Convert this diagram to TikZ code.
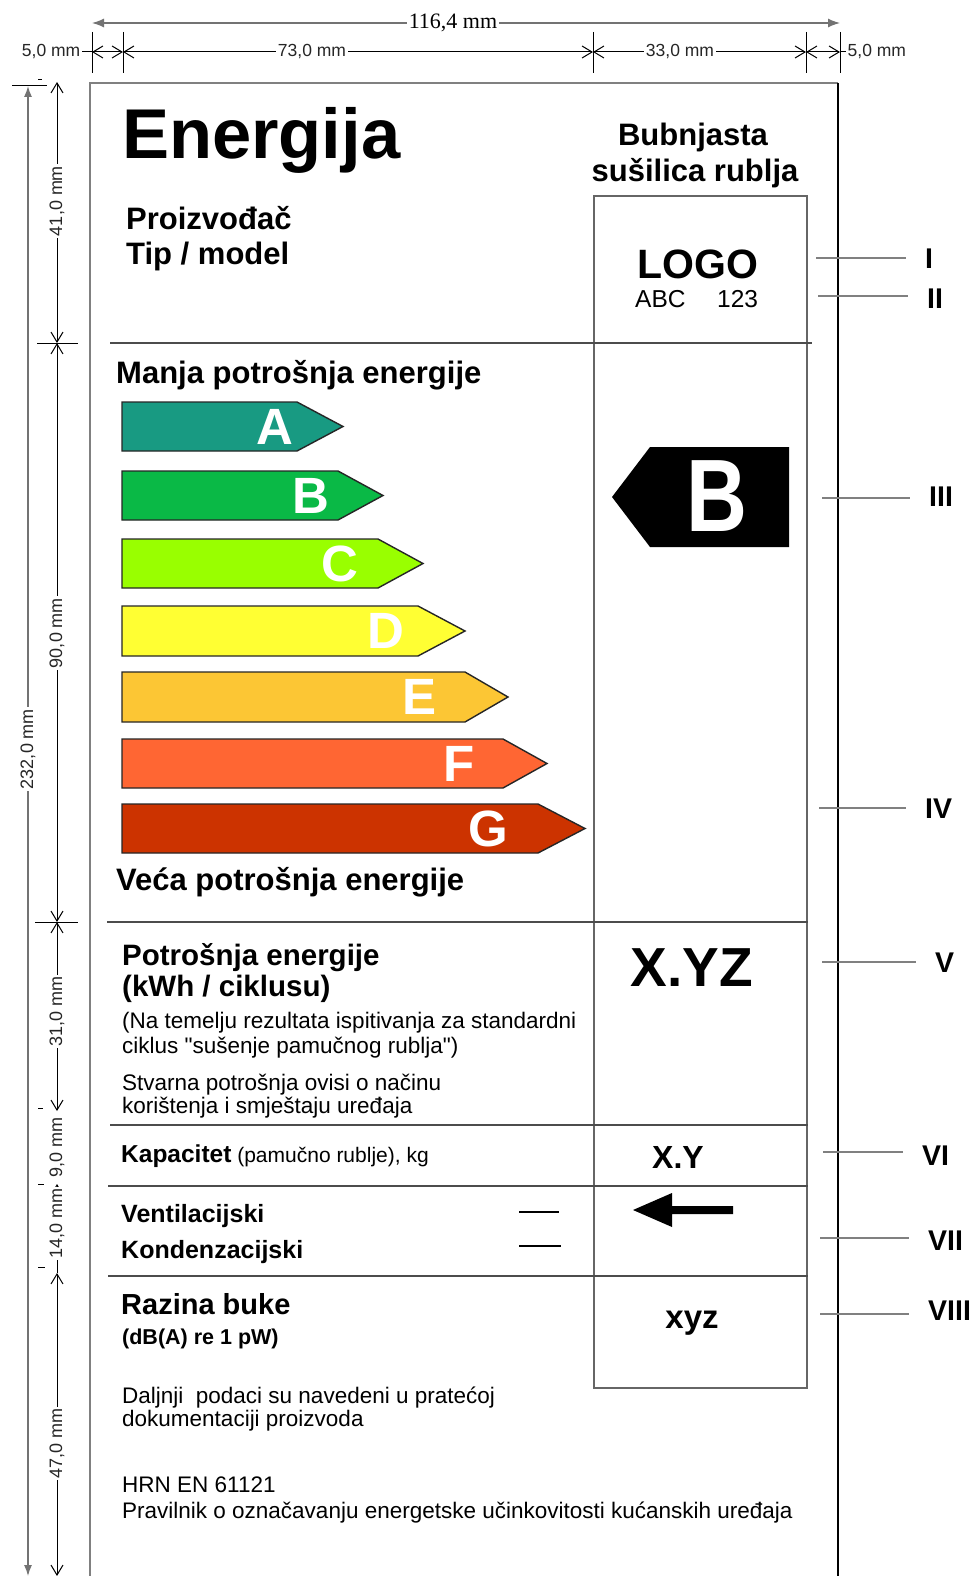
\documentclass[tikz,border=0pt]{standalone}
\usepackage{fontspec}
\setmainfont{Liberation Sans}
\newfontfamily\rawsans{Liberation Sans}
\newfontfamily\dimserif{Liberation Serif}
\usetikzlibrary{arrows.meta}
\newcommand\fsz[2]{\fontsize{#1}{#2}\selectfont}
\definecolor{clA}{RGB}{24,154,130}
\definecolor{clB}{RGB}{10,185,70}
\definecolor{clC}{RGB}{153,255,0}
\definecolor{clD}{RGB}{255,255,51}
\definecolor{clE}{RGB}{252,198,52}
\definecolor{clF}{RGB}{255,102,51}
\definecolor{clG}{RGB}{204,51,0}
\begin{document}
\begin{tikzpicture}[x=1pt,y=-1pt,
  framegray/.style={draw=black!50,line width=1.4pt},
  boxl/.style={draw=black!60,line width=1.1pt},
  rowl/.style={draw=black!70,line width=1.2pt},
  leader/.style={draw=black!50,line width=2.2pt,shorten >=19pt},
  roman/.style={font=\fsz{28.5}{29}\bfseries,anchor=base west,inner sep=0pt},
  dimline/.style={draw=black,line width=1pt},
  dimarr/.style={dimline,>={Straight Barb[length=10pt,width=12pt]},<->},
  dimtxt/.style={font=\fsz{17.5}{18},text=black!85,fill=white,inner sep=1.5pt},
  vdimtxt/.style={dimtxt,rotate=90,font=\fsz{18}{18}},
  tb/.style={anchor=base west,inner sep=0pt},
  tc/.style={anchor=base,inner sep=0pt},
  ebox/.style={draw=black!85,line width=1.4pt},
  letter/.style={text=white,font=\fsz{51}{51}\bfseries,inner sep=0pt,anchor=center}
]
\useasboundingbox (0,0) rectangle (974,1576);
\fill[white] (0,0) rectangle (974,1576);

% ---------- top dimensions ----------
\coordinate (t1) at (92,23);
\coordinate (t2) at (840,23);
\draw[draw=black!55,line width=1.3pt,{Latex[length=12pt,width=9pt]}-{Latex[length=12pt,width=9pt]}] (t1) -- (t2);
\node[font=\dimserif\fsz{22}{22},fill=white,inner sep=2pt] (d116) at (453,23) {116,4 mm};

\foreach \x in {92,123,593,806,840} \draw[dimline] (\x,32) -- (\x,73);
\coordinate (h0) at (92,52);
\coordinate (h1) at (123,52);
\coordinate (h2) at (593,52);
\coordinate (h3) at (806,52);
\coordinate (h4) at (840,52);
\draw[dimarr] (h0) -- (h1);
\draw[dimarr] (h1) -- (h2);
\draw[dimarr] (h2) -- (h3);
\draw[dimarr] (h3) -- (h4);
\node[dimtxt] (d73) at (312,52) {73,0 mm};
\node[dimtxt] (d33) at (680,52) {33,0 mm};
\node[dimtxt,anchor=east,fill=none] (d5l) at (82,52) {5,0 mm};
\node[dimtxt,anchor=west,fill=none] (d5r) at (846,52) {5,0 mm};
\draw[dimline] (d5l.east) -- (h0);
\draw[dimline] (h4) -- (d5r.west);

% ---------- left dimensions ----------
\coordinate (o1) at (28,86);
\coordinate (o2) at (28,1576);
\draw[draw=black!55,line width=1.3pt,{Latex[length=11pt,width=8pt]}-{Latex[length=11pt,width=8pt]}] (o1) -- (o2);
\draw[dimline] (12,86) -- (47,86);
\draw[dimline] (38,80) -- (42,80);
\node[vdimtxt] (d232) at (28,749) {232,0 mm};

\coordinate (v0) at (57,82);
\coordinate (v1) at (57,343);
\coordinate (v2) at (57,922);
\coordinate (v3) at (57,1111);
\coordinate (v4) at (57,1184);
\coordinate (v5) at (57,1273);
\coordinate (v6) at (57,1576);
\draw[dimarr] (v0) -- (v1);
\draw[dimarr] (v1) -- (v2);
\draw[dimarr] (v2) -- (v3);
\draw[dimline,>={Straight Barb[length=10pt,width=12pt]},<-] (v4) -- (v5);
\draw[dimarr] (v5) -- (v6);
\draw[dimline] (37,343) -- (78,343);
\draw[dimline] (35,922) -- (78,922);
\draw[dimline] (38,1108) -- (43,1108);
\draw[dimline] (38,1184) -- (44,1184);
\draw[dimline] (38,1267) -- (45,1267);
\node[vdimtxt] (d41) at (57,201) {41,0 mm};
\node[vdimtxt] (d90) at (57,633) {90,0 mm};
\node[vdimtxt] (d31) at (57,1011) {31,0 mm};
\node[vdimtxt] (d9) at (57,1147) {9,0 mm};
\node[vdimtxt] (d14) at (57,1223) {14,0 mm};
\node[vdimtxt] (d47) at (57,1443) {47,0 mm};

% ---------- frame ----------
\draw[framegray] (90,1576) -- (90,83) -- (838,83);
\draw[black,line width=1.6pt] (838,83) -- (838,1576);
\draw[boxl] (594,196) rectangle (807,1388);
\draw[rowl] (110,343) -- (812,343);
\draw[rowl] (107,922) -- (808,922);
\draw[rowl] (110,1125) -- (808,1125);
\draw[rowl] (108,1186) -- (808,1186);
\draw[rowl] (108,1276) -- (808,1276);

% ---------- header ----------
\node[tb,font=\fsz{70.5}{71}\bfseries] (energ) at (122,158) {Energija};
\node[tc,font=\fsz{31}{31}\bfseries] (bub1) at (693,146) {Bubnjasta};
\node[tc,font=\fsz{31}{31}\bfseries] (bub2) at (695,181) {sušilica rublja};
\node[tb,font=\fsz{31}{31}\bfseries] (proiz) at (126,229) {Proizvođač};
\node[tb,font=\fsz{31}{31}\bfseries] (tipm) at (126,264) {Tip / model};
\node[tc,font=\fsz{41}{41}\bfseries] (logo) at (698,278) {LOGO};
\node[tb,font=\fsz{24.5}{25}] (abc) at (635,307) {ABC};
\node[tb,font=\fsz{24.5}{25}] (n123) at (717,307) {123};

% ---------- scale ----------
\node[tb,font=\fsz{31}{31}\bfseries] (manja) at (116,383) {Manja potrošnja energije};
\foreach \l/\t/\b/\e/\p/\lx/\c in {A/402/451/297/343/275/clA,B/471/520/338/383/311/clB,C/539/588/378/423/340/clC,D/606/656/418/465/386/clD,E/672/722/465/508/420/clE,F/739/788/503/547/459/clF,G/804/853/538/585/488/clG}{
  \draw[ebox,fill=\c] (122,\t) -- (\e,\t) -- (\p,{(\t+\b)/2}) -- (\e,\b) -- (122,\b) -- cycle;
  \node[letter] (let\l) at (\lx,{(\t+\b)/2}) {\l};
}
\node[tb,font=\fsz{31}{31}\bfseries] (veca) at (116,890) {Veća potrošnja energije};

\fill[black] (612,497) -- (650,447) -- (789,447) -- (789,547) -- (650,547) -- cycle;
\node[text=white,font=\fsz{103}{103}\bfseries,inner sep=0pt] (bigB) at (717,496) {\scalebox{0.82}[1]{B}};

% ---------- consumption ----------
\node[tb,font=\fsz{29.5}{30}\bfseries] (potr) at (122,965) {Potrošnja energije};
\node[tb,font=\fsz{29.5}{30}\bfseries] (kwh) at (122,996) {(kWh / ciklusu)};
\node[tb,font=\fsz{22.5}{23}] (na1) at (122,1028) {(Na temelju rezultata ispitivanja za standardni};
\node[tb,font=\rawsans\fsz{22.5}{23}] (na2) at (122,1053) {ciklus "sušenje pamučnog rublja")};
\node[tb,font=\fsz{22.5}{23}] (stv1) at (122,1090) {Stvarna potrošnja ovisi o načinu};
\node[tb,font=\fsz{22.5}{23}] (stv2) at (122,1113) {korištenja i smještaju uređaja};
\node[tc,font=\fsz{55}{55}\bfseries] (xyz1) at (692,986) {X.YZ};

% ---------- capacity ----------
\node[tb,font=\fsz{21}{21}] (kap) at (121,1162) {{\fsz{24.5}{25}\bfseries Kapacitet} (pamučno rublje), kg};
\node[tc,font=\fsz{32}{32}\bfseries] (xy) at (678,1168) {X.Y};

% ---------- type ----------
\node[tb,font=\fsz{25}{25}\bfseries] (vent) at (121,1222) {Ventilacijski};
\node[tb,font=\fsz{25}{25}\bfseries] (kond) at (121,1258) {Kondenzacijski};
\coordinate (dv1) at (519,1212);
\coordinate (dv2) at (559,1212);
\coordinate (dk1) at (519,1246);
\coordinate (dk2) at (561,1246);
\draw[black,line width=1.5pt] (dv1) -- (dv2);
\draw[black,line width=1.5pt] (dk1) -- (dk2);
\fill[black] (633,1210) -- (672,1193) -- (672,1206) -- (733,1206) -- (733,1214) -- (672,1214) -- (672,1227) -- cycle;

% ---------- noise ----------
\node[tb,font=\fsz{29}{29}\bfseries] (raz) at (121,1314) {Razina buke};
\node[tb,font=\fsz{21.5}{22}\bfseries] (db) at (122,1344) {(dB(A) re 1 pW)};
\node[tc,font=\fsz{33}{33}\bfseries] (xyz2) at (692,1328) {xyz};

% ---------- footer ----------
\node[tb,font=\fsz{22.5}{23}] (dal1) at (122,1403) {Daljnji\ \ podaci su navedeni u pratećoj};
\node[tb,font=\fsz{22.5}{23}] (dal2) at (122,1426) {dokumentaciji proizvoda};
\node[tb,font=\fsz{22.5}{23}] (hrn) at (122,1492) {HRN EN 61121};
\node[tb,font=\fsz{22.5}{23}] (prav) at (122,1518) {Pravilnik o označavanju energetske učinkovitosti kućanskih uređaja};

% ---------- roman numeral leaders ----------
\node[roman] (r1) at (925,268) {I};
\node[roman] (r2) at (927,308) {II};
\node[roman] (r3) at (929,506) {III};
\node[roman] (r4) at (925,818) {IV};
\node[roman] (r5) at (935,972) {V};
\node[roman] (r6) at (922,1165) {VI};
\node[roman] (r7) at (928,1250) {VII};
\node[roman] (r8) at (928,1320) {VIII};
\coordinate (s1) at (816,258);
\coordinate (s2) at (818,296);
\coordinate (s3) at (822,498);
\coordinate (s4) at (819,808);
\coordinate (s5) at (822,962);
\coordinate (s6) at (823,1152);
\coordinate (s7) at (820,1238);
\coordinate (s8) at (820,1314);
\foreach \i in {1,...,8} \draw[leader] (s\i) -- (s\i -| r\i.west);
\end{tikzpicture}
\end{document}
